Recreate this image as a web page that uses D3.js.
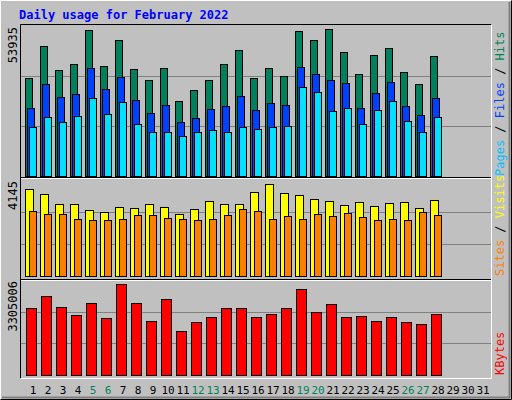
<!DOCTYPE html><html><head><meta charset="utf-8">
<script src="https://cdn.jsdelivr.net/npm/d3@7"></script>
<style>body{margin:0;background:#fff}</style></head><body><svg id="c" width="512" height="400"></svg>
<script>
const days=d3.range(1,32);
const weekend=[5,6,12,13,19,20,26,27];
const hits=[35119,46625,37996,40153,52379,39434,48783,38355,34400,38715,26849,30804,34400,40153,45187,35119,38715,35838,52019,48783,52738,44468,36557,43389,45906,37276,32962,43030];
const files=[24332,32962,28287,29366,38715,31164,35479,27208,22534,25410,19297,20736,23972,25051,28647,23612,26129,25410,39074,36557,34400,33321,24332,29725,33681,25051,21815,27927];
const pages=[17500,21095,19297,21455,27927,22174,26489,18578,15702,15702,14263,15702,16421,15702,17500,16780,17500,17859,31883,30085,23253,24332,18578,23612,26849,19657,15702,21095];
const visits=[3756,3540,3108,3108,2849,2763,2979,2936,3108,2979,2677,2892,3238,3108,3108,3626,3972,3583,3497,3324,3238,3065,3195,3022,3151,3195,2936,3281];
const sites=[2806,2677,2677,2461,2418,2418,2461,2633,2633,2504,2461,2418,2461,2633,2892,2806,2461,2590,2461,2677,2590,2720,2547,2418,2461,2418,2763,2633];
const kbytes=[2331000,2748500,2365800,2087500,2505000,1983100,3166000,2505000,1878700,2644100,1530800,1843900,2017900,2331000,2331000,2017900,2122200,2331000,2992000,2191800,2470200,2017900,2052700,1878700,2017900,1843900,1774300,2122200];
const maxHits=53935, maxVisits=4145, maxKB=3305006;
const svg=d3.select("#c");
const F="DejaVu Sans Mono, monospace";
svg.append("rect").attr("width",512).attr("height",400).attr("fill","#c0c0c0");
// bevel
svg.append("path").attr("d","M0.5,399.5V0.5H511.5").attr("stroke","#fff").attr("fill","none");
svg.append("path").attr("d","M511.5,0.5V399.5H0.5").attr("stroke","#000").attr("fill","none");
svg.append("path").attr("d","M509.5,2V397.5H2").attr("stroke","#808080").attr("stroke-width",2).attr("fill","none");
svg.append("text").attr("x",19).attr("y",19).attr("font-family",F).attr("font-weight","bold").attr("font-size",12).attr("fill","#0000ff").text("Daily usage for February 2022");
// plot frame
svg.append("path").attr("d","M20.5,378.5V24.5H491.5").attr("stroke","#000").attr("fill","none");
svg.append("path").attr("d","M491.5,24.5V378.5H20.5").attr("stroke","#fff").attr("fill","none");
[178.5,280.5].forEach(y=>svg.append("line").attr("x1",21).attr("x2",491).attr("y1",y).attr("y2",y).attr("stroke","#fff"));
[177.5,279.5].forEach(y=>svg.append("line").attr("x1",21).attr("x2",491).attr("y1",y).attr("y2",y).attr("stroke","#000"));
const x=d3.scaleLinear().domain([1,31]).range([25,475]);
function panel(top,base,max,series,label,rlabel){
  const y=d3.scaleLinear().domain([0,max]).range([base,top]);
  [max/3,2*max/3].forEach(v=>svg.append("line").attr("x1",21).attr("x2",491).attr("y1",Math.round(y(v))+.5).attr("y2",Math.round(y(v))+.5).attr("stroke","#808080"));
  series.forEach(s=>{
    svg.append("g").selectAll("rect").data(s.data).join("rect")
      .attr("x",(d,i)=>x(i+1)+s.off+.5).attr("width",s.w)
      .attr("y",d=>Math.round(y(d))+.5).attr("height",d=>base-Math.round(y(d)))
      .attr("fill",s.c).attr("stroke","#000");
  });
  svg.append("text").attr("transform",`translate(17,${top+1}) rotate(-90)`).attr("text-anchor","end")
    .attr("font-family",F).attr("font-size",12).attr("fill","#000").text(label);
  const t=svg.append("text").attr("transform",`translate(504,${base}) rotate(-90)`)
    .attr("font-family",F).attr("font-size",12);
  rlabel.forEach(r=>t.append("tspan").attr("fill",r[1]).text(r[0]));
}
panel(26,176,maxHits,[{data:hits,off:0,w:7,c:"#00805c"},{data:files,off:2,w:7,c:"#0040ff"},{data:pages,off:4,w:7,c:"#00e0ff"}],String(maxHits),[["Pages","#00c0ff"],[" / ","#000"],["Files","#0040ff"],[" / ","#000"],["Hits","#00805c"]]);
panel(180,276,maxVisits,[{data:visits,off:0,w:8,c:"#ffff00"},{data:sites,off:4,w:7,c:"#ff8000"}],String(maxVisits),[["Sites","#ff8000"],[" / ","#000"],["Visits","#ffff00"]]);
panel(280,375,maxKB,[{data:kbytes,off:1,w:10,c:"#ff0000"}],String(maxKB),[["KBytes","#ff0000"]]);
svg.append("g").selectAll("text").data(days).join("text")
  .attr("x",d=>x(d)+8).attr("y",394).attr("text-anchor","middle")
  .attr("font-family",F).attr("font-size",11)
  .attr("fill",d=>weekend.includes(d)?"#00805c":"#000").text(d=>d);
</script></body></html>
